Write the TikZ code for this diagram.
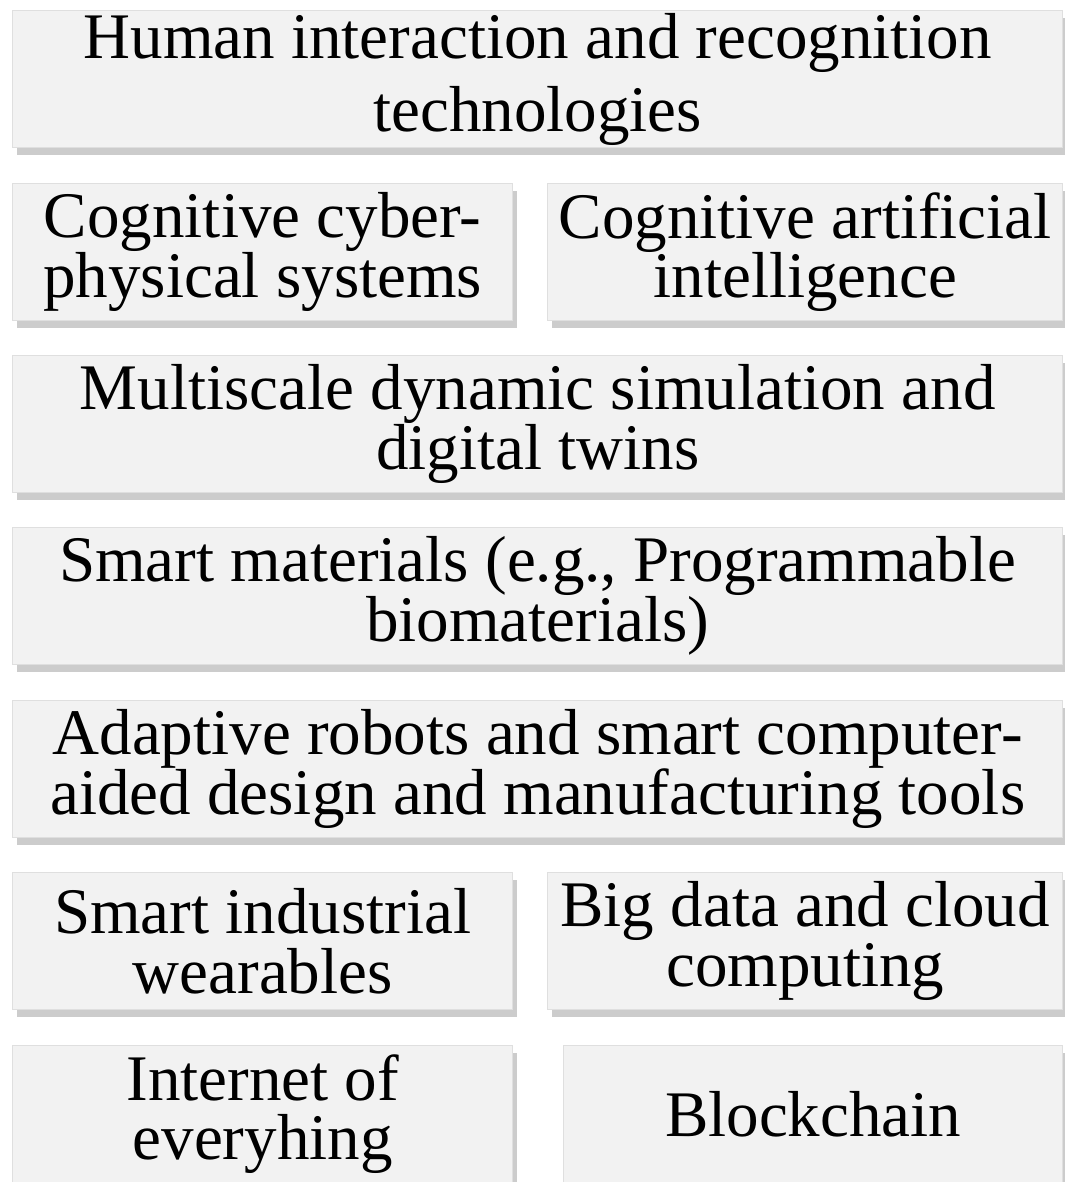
\documentclass[tikz,border=0pt]{standalone}
\usepackage{fontspec}
\setmainfont{Liberation Serif}
\usetikzlibrary{shadows}

\begin{document}
\begin{tikzpicture}[
    tech/.style={draw=gray!25, fill=gray!10, anchor=north west, align=center,
      inner sep=0pt, minimum height=1.37cm,
      font=\fontsize{18.5}{17}\selectfont,
      drop shadow={shadow xshift=0.04cm, shadow yshift=-0.07cm, fill=black!40, opacity=0.5}},
    wide/.style={tech, minimum width=10.5cm},
    half/.style={tech, minimum width=5cm},
  ]
  \useasboundingbox (0,0) rectangle (10.65,-11.82);
  % full rows
  \node[wide, font=\fontsize{18.5}{20.7}\selectfont] (human) at (0.12,-0.10)
    {Human interaction and recognition\\technologies};
  \node[wide] (sim) at (0.12,-3.55) {Multiscale dynamic simulation and\\digital twins};
  \node[wide] (mat) at (0.12,-5.27) {Smart materials (e.g., Programmable\\biomaterials)};
  \node[wide] (robot) at (0.12,-7.00) {Adaptive robots and smart computer-\\aided design and manufacturing tools};
  % split rows
  \node[half] (cps) at (0.12,-1.83) {Cognitive cyber-\\physical systems};
  \node[half, minimum width=5.15cm] (cai) at (5.47,-1.83) {Cognitive artificial\\intelligence};
  \node[half] (wear) at (0.12,-8.72) {Smart industrial\\wearables};
  \node[half, minimum width=5.15cm] (bigdata) at (5.47,-8.72) {Big data and cloud\\computing};
  \node[half] (ioe) at (0.12,-10.45) {Internet of\\everyhing};
  \node[half, minimum width=4.99cm] (chain) at (5.63,-10.45) {Blockchain};
\end{tikzpicture}
\end{document}
